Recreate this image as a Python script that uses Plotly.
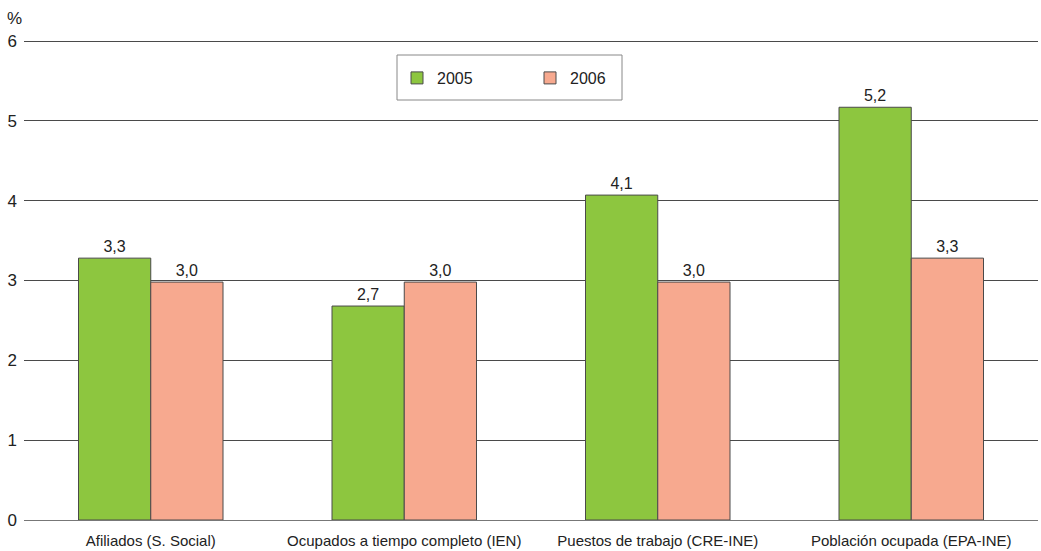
import plotly.graph_objects as go

categories = ["Afiliados (S. Social)", "Ocupados a tiempo completo (IEN)",
              "Puestos de trabajo (CRE-INE)", "Población ocupada (EPA-INE)"]
series_2005 = [3.28, 2.68, 4.07, 5.17]
series_2006 = [2.98, 2.98, 2.98, 3.28]
labels_2005 = ["3,3", "2,7", "4,1", "5,2"]
labels_2006 = ["3,0", "3,0", "3,0", "3,3"]
y_ticks = [0, 1, 2, 3, 4, 5, 6]

W, H = 1041, 551
L, R, T, B = 24, 3, 39, 31
Y_MAX = 6.025
pw, ph = W - L - R, H - T - B

def px_x(x):
    return (x - L) / pw

def px_y(y):
    return (H - B - y) / ph

font_fam = "Liberation Sans, Arial, sans-serif"

fig = go.Figure()
fig.add_trace(go.Bar(
    x=categories, y=series_2005, name="2005",
    marker=dict(color="#8dc63f", line=dict(color="#4a4a4a", width=1)),
    text=labels_2005, textposition="outside",
    textfont=dict(family=font_fam, size=16, color="#222"),
    cliponaxis=False,
))
fig.add_trace(go.Bar(
    x=categories, y=series_2006, name="2006",
    marker=dict(color="#f7a98f", line=dict(color="#4a4a4a", width=1)),
    text=labels_2006, textposition="outside",
    textfont=dict(family=font_fam, size=16, color="#222"),
    cliponaxis=False,
))

fig.update_layout(
    width=W, height=H,
    margin=dict(l=L, r=R, t=T, b=B),
    paper_bgcolor="white", plot_bgcolor="white",
    barmode="group", bargap=0.43, bargroupgap=0,
    showlegend=True,
    legend=dict(
        orientation="h", x=px_x(397), y=px_y(61), xanchor="left", yanchor="top",
        bgcolor="rgba(0,0,0,0)", borderwidth=0,
        font=dict(family=font_fam, size=16, color="#222"),
        entrywidth=88, entrywidthmode="pixels",
    ),
    xaxis=dict(
        showgrid=False, showline=False, ticks="",
        tickfont=dict(family=font_fam, size=15, color="#222"),
        ticklabelstandoff=10,
    ),
    yaxis=dict(
        range=[0, Y_MAX], tickvals=y_ticks, ticktext=[str(v) for v in y_ticks],
        showgrid=True, gridcolor="#4a4a4a", gridwidth=1,
        zeroline=True, zerolinecolor="#777", zerolinewidth=1,
        showline=False, ticks="",
        tickfont=dict(family=font_fam, size=17, color="#222"),
        ticklabelstandoff=6,
    ),
    shapes=[dict(
        type="rect", xref="paper", yref="paper",
        x0=px_x(397), x1=px_x(622), y0=px_y(100), y1=px_y(55),
        line=dict(color="#888", width=1), fillcolor="rgba(0,0,0,0)",
        layer="below",
    )],
    annotations=[dict(
        text="%", xref="paper", yref="paper", x=px_x(14), y=px_y(18),
        xanchor="center", yanchor="middle", showarrow=False,
        font=dict(family=font_fam, size=17, color="#222"),
    )],
)

fig.write_html("out.html")
